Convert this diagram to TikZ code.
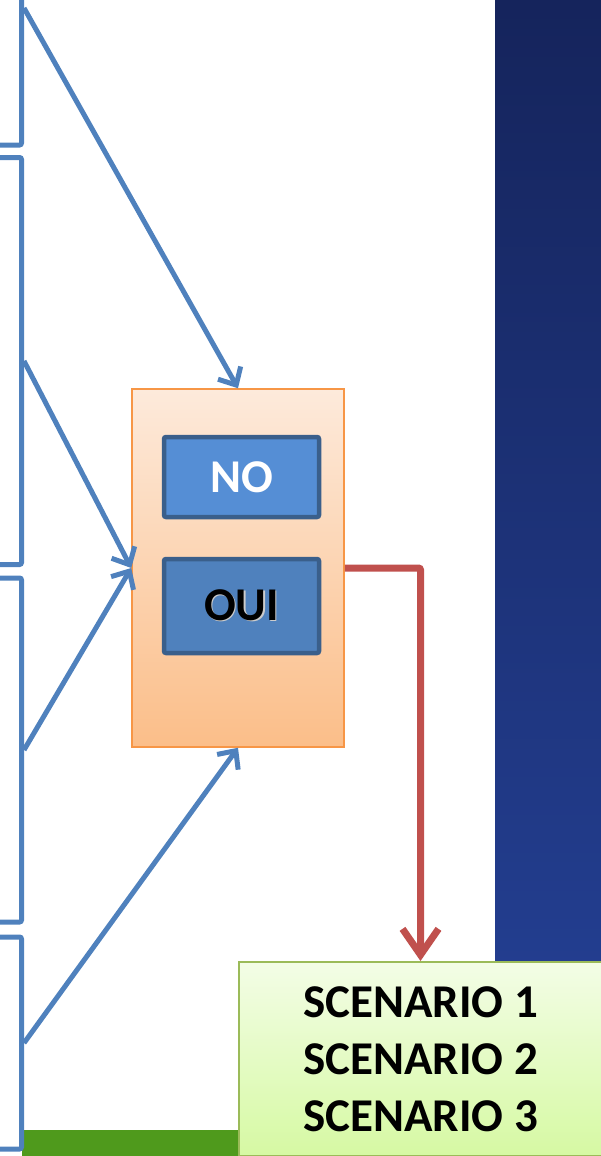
\documentclass[tikz,border=0pt]{standalone}
\usepackage{fontspec}
\setmainfont{Carlito}
\usetikzlibrary{arrows.meta}
\definecolor{lineblue}{HTML}{4F81BD}
\definecolor{choiceedge}{HTML}{3A5F8B}
\definecolor{nofill}{HTML}{558ED5}
\definecolor{ouifill}{HTML}{4F81BD}
\definecolor{ctledge}{HTML}{F79646}
\definecolor{ctltop}{HTML}{FDEADB}
\definecolor{ctlbot}{HTML}{FBBE89}
\definecolor{scnedge}{HTML}{9BBB59}
\definecolor{scntop}{HTML}{F3FDE6}
\definecolor{scnbot}{HTML}{D6F9A3}
\definecolor{outred}{HTML}{C0504D}
\definecolor{navytop}{HTML}{15245C}
\definecolor{navybot}{HTML}{233E90}
\definecolor{stripgreen}{HTML}{4F9A1C}
\tikzstyle{source} = [draw=lineblue, line width=5pt, rounded corners=2pt, minimum width=60pt, anchor=east]
\tikzstyle{feed} = [draw=lineblue, line width=5pt, -{Straight Barb[length=14pt,width=26pt]}]
\tikzstyle{choice} = [draw=choiceedge, line width=4.5pt, rounded corners=2pt, minimum width=155pt]
\tikzstyle{outcome} = [draw=outred, line width=7pt, rounded corners=2pt, -{Straight Barb[length=26pt,width=36pt]}]
\newcommand{\bigtext}{\fontsize{47}{57}\selectfont\bfseries}
\newcommand{\shadowed}[1]{\makebox[0pt][l]{\hspace{1.5pt}\raisebox{-1.5pt}{\color{black!20}#1}}#1}

\begin{document}
\begin{tikzpicture}[x=1pt, y=-1pt]%
	\useasboundingbox (0,0) rectangle (601,1156);%
	% background panel and strip
	\shade[top color=navytop, bottom color=navybot] (495,0) rectangle (601,985);%
	\fill[stripgreen] (22,1130) rectangle (300,1156);%
	% sources on the left
	\node[source, minimum height=274pt] (src1) at (24,8) {};%
	\node[source, minimum height=407pt] (src2) at (24,361) {};%
	\node[source, minimum height=344pt] (src3) at (24,750) {};%
	\node[source, minimum height=212pt] (src4) at (24,1043) {};%
	% decision box
	\node[draw=ctledge, line width=1.5pt, top color=ctltop, bottom color=ctlbot,%
		minimum width=212pt, minimum height=358pt] (ctl) at (238,568) {};%
	\node[choice, fill=nofill, minimum height=80pt, text=white, font=\bigtext] (no) at (241.5,477) {NO};%
	\node[choice, fill=ouifill, minimum height=94pt, text=black, font=\bigtext] (oui) at (241.5,606) {\shadowed{OUI}};%
	\draw[feed] (src1.east) -- (ctl.north);%
	\draw[feed] (src2.east) -- (ctl.west);%
	\draw[feed] (src3.east) -- (ctl.west);%
	\draw[feed] (src4.east) -- (ctl.south);%
	% outcome
	\node[draw=scnedge, line width=2pt, top color=scntop, bottom color=scnbot,%
		minimum width=364pt, minimum height=194pt, align=center, font=\bigtext] (scn) at (420.5,1059)%
		{SCENARIO 1\\SCENARIO 2\\SCENARIO 3};%
	\draw[outcome] (ctl.east) -| (scn.north);%
\end{tikzpicture}
\end{document}
